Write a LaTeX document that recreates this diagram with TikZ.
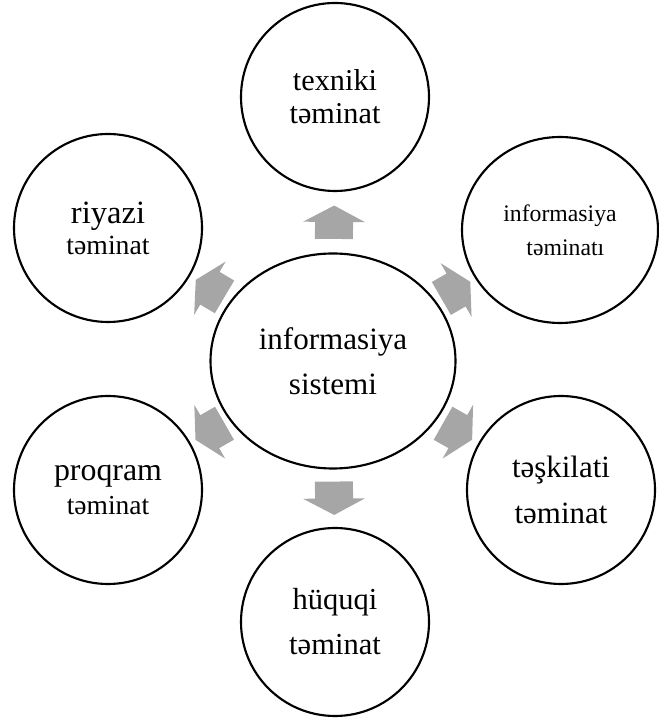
\documentclass[tikz,border=0pt]{standalone}
\usepackage{fontspec}
\setmainfont{Liberation Serif}
\usetikzlibrary{shapes.geometric}
\definecolor{arrowgray}{HTML}{A6A6A6}
\tikzset{
  bub/.style={draw=black, line width=1.6pt, fill=white, inner sep=0pt, align=center},
  sat/.style={bub, circle, minimum size=141pt},
  blockarrow/.pic={\fill[arrowgray] (-16.7,-19) -- (0.3,-19) -- (0.3,-31) -- (16.7,0) -- (0.3,31) -- (0.3,19) -- (-16.7,19) -- cycle;}
}
\begin{document}
\begin{tikzpicture}[x=0.75pt,y=0.75pt]
\useasboundingbox (0,0) rectangle (658,720);
\node[bub, ellipse, minimum width=183.75pt, minimum height=161.25pt,
      font=\fontsize{23.3pt}{33.75pt}\selectfont] (c) at (333,359) {informasiya\\sistemi};
\node[sat, font=\fontsize{22.7pt}{24.75pt}\selectfont] (t) at (335,623) {texniki\\təminat};
\node[sat, font=\fontsize{20.8pt}{23.25pt}\selectfont] (r) at (108,492)
      {{\fontsize{24.4pt}{23.25pt}\selectfont riyazi}\\təminat};
\node[bub, ellipse, minimum width=147pt, minimum height=139.5pt,
      font=\fontsize{17.8pt}{25.5pt}\selectfont] (i) at (560,490) {informasiya\\\hspace*{8pt}təminatı};
\node[sat, font=\fontsize{20.6pt}{25.5pt}\selectfont] (p) at (108,230)
      {{\fontsize{23.9pt}{25.5pt}\selectfont proqram}\\təminat};
\node[sat, font=\fontsize{23.2pt}{35pt}\selectfont] (s) at (561,230) {təşkilati\\təminat};
\node[sat, font=\fontsize{22.9pt}{33.75pt}\selectfont] (h) at (335,98) {hüquqi\\təminat};
\foreach \n in {t,i,s,h,p,r}
  \path (c) -- (\n) pic[midway, sloped, allow upside down]{blockarrow};
\end{tikzpicture}
\end{document}
